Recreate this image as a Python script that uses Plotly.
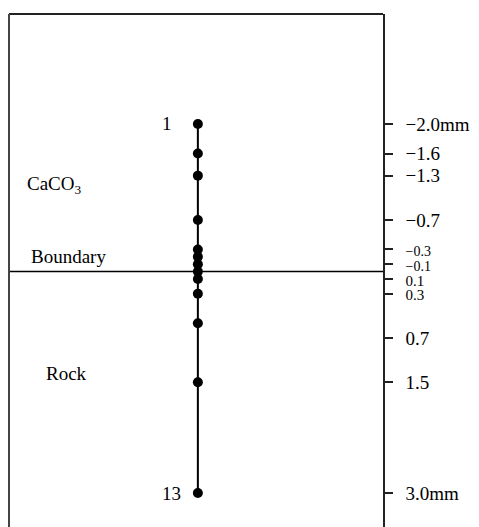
import plotly.graph_objects as go

# Measurement points (depth in mm relative to boundary; negative = CaCO3 side)
point_depths = [-2.0, -1.6, -1.3, -0.7, -0.3, -0.2, -0.1, 0.0, 0.1, 0.3, 0.7, 1.5, 3.0]
point_x = [0] * len(point_depths)

# Right-hand tick positions and labels as drawn in the figure
tick_positions = [-2.0, -1.6, -1.3, -0.7, -0.3, -0.1, 0.1, 0.3, 0.9, 1.5, 3.0]
tick_labels = ["\u22122.0mm", "\u22121.6", "\u22121.3", "\u22120.7", "\u22120.3", "\u22120.1",
               "0.1", "0.3", "0.7", "1.5", "3.0mm"]
tick_sizes = [19, 19, 19, 19, 14, 14, 15, 15, 19, 19, 19]

region_labels = ["CaCO<sub>3</sub>", "Boundary", "Rock"]
region_depths = [-1.18, -0.2, 1.38]
region_x = [-0.462, -0.452, -0.412]

boundary_depth = 0.0

ticktext = [f'<span style="font-size:{s}px">{t}</span>' for t, s in zip(tick_labels, tick_sizes)]

fig = go.Figure()
fig.add_trace(go.Scatter(
    x=point_x, y=point_depths, mode="lines+markers",
    line=dict(color="black", width=2),
    marker=dict(color="black", size=10),
    showlegend=False, hoverinfo="skip",
))

annotations = []
for txt, yv, xv in zip(region_labels, region_depths, region_x):
    annotations.append(dict(x=xv, y=yv, xref="x", yref="y", text=txt, showarrow=False,
                            xanchor="left", yanchor="middle",
                            font=dict(family="Liberation Serif", size=19, color="black")))
annotations.append(dict(x=point_x[0], y=point_depths[0], xref="x", yref="y", text="1",
                        showarrow=False, xanchor="right", xshift=-24, yanchor="middle",
                        font=dict(family="Liberation Serif", size=19, color="black")))
annotations.append(dict(x=point_x[-1], y=point_depths[-1], xref="x", yref="y", text="13",
                        showarrow=False, xanchor="right", xshift=-15, yanchor="middle",
                        font=dict(family="Liberation Serif", size=19, color="black")))

shapes = [
    dict(type="line", xref="paper", yref="y", x0=0, x1=1, y0=boundary_depth, y1=boundary_depth,
         line=dict(color="black", width=1.5)),
    dict(type="line", xref="paper", yref="paper", x0=0, x1=1, y0=1, y1=1,
         line=dict(color="#222", width=2)),
    dict(type="line", xref="paper", yref="paper", x0=0, x1=0, y0=0, y1=1,
         line=dict(color="#444", width=2)),
]

fig.update_layout(
    width=471, height=519,
    margin=dict(l=1, r=96, t=6, b=0),
    paper_bgcolor="white", plot_bgcolor="white",
    font=dict(family="Liberation Serif", size=19, color="black"),
    xaxis=dict(range=[-0.505, 0.495], visible=False, fixedrange=True),
    yaxis=dict(range=[3.46, -3.49], side="right", showgrid=False, zeroline=False,
               showline=True, linecolor="#222", linewidth=1.5,
               ticks="outside", ticklen=8, tickwidth=1.5, tickcolor="#222",
               tickvals=tick_positions, ticktext=ticktext, ticklabelstandoff=9,
               tickfont=dict(family="Liberation Serif", size=19, color="black")),
    annotations=annotations, shapes=shapes,
)

fig.write_html("out.html")
